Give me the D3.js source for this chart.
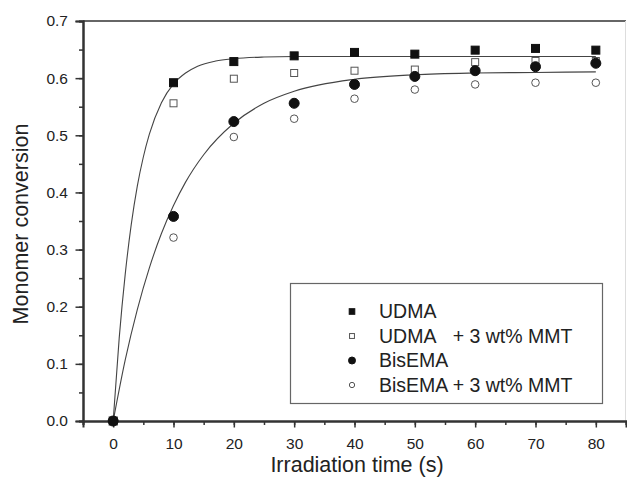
<!DOCTYPE html>
<html>
<head>
<meta charset="utf-8">
<script src="https://cdn.jsdelivr.net/npm/d3@7"></script>
<style>
  body { margin: 0; background: #fff; }
  text { font-family: "Liberation Sans", Arial, sans-serif; fill: #222; }
</style>
</head>
<body>
<svg id="chart" width="627" height="483"></svg>
<script>
// measured points
const times = [0, 10, 20, 30, 40, 50, 60, 70, 80];
const udma = [0, 0.592, 0.629, 0.639, 0.645, 0.642, 0.649, 0.652, 0.649];
const udmaMmt = [0, 0.556, 0.599, 0.609, 0.613, 0.615, 0.628, 0.630, 0.630];
const bisema = [0, 0.358, 0.524, 0.556, 0.589, 0.603, 0.613, 0.620, 0.626];
const bisemaMmt = [0, 0.321, 0.497, 0.529, 0.564, 0.580, 0.589, 0.592, 0.592];

// fitted curves
const fitUdmaT = [0, 1, 2, 3, 4, 5, 6, 8, 10, 12, 14, 17, 20, 25, 30, 40, 60, 80];
const fitUdmaY = [0, 0.145, 0.257, 0.344, 0.411, 0.462, 0.502, 0.557, 0.590, 0.609, 0.621, 0.630, 0.634, 0.637, 0.638, 0.638, 0.638, 0.638];
const fitBisT = [0, 2, 4, 6, 8, 10, 12, 15, 20, 25, 30, 40, 50, 60, 70, 80];
const fitBisY = [0, 0.107, 0.195, 0.268, 0.328, 0.377, 0.418, 0.466, 0.521, 0.556, 0.577, 0.598, 0.606, 0.609, 0.610, 0.611];

const xTicks = [0, 10, 20, 30, 40, 50, 60, 70, 80];
const yTicks = [0, 0.1, 0.2, 0.3, 0.4, 0.5, 0.6, 0.7];
const legendLabels = ["UDMA", "UDMA\u00a0\u00a0\u00a0+ 3 wt% MMT", "BisEMA", "BisEMA + 3 wt% MMT"];

const svg = d3.select("#chart");
const mLeft = 83, mRight = 626, mTop = 21, mBottom = 421;

const x = d3.scaleLinear().domain([-5, 85]).range([mLeft, mRight]);
const y = d3.scaleLinear().domain([0, 0.7]).range([mBottom, mTop]);

// frame
svg.append("line").attr("x1", mLeft).attr("x2", mRight).attr("y1", mTop).attr("y2", mTop)
  .attr("stroke", "#333").attr("stroke-width", 1.6);
svg.append("line").attr("x1", mRight - 0.5).attr("x2", mRight - 0.5).attr("y1", mTop).attr("y2", mBottom)
  .attr("stroke", "#ddd").attr("stroke-width", 1);

// axes
const xAxis = svg.append("g").attr("transform", `translate(0,${mBottom})`);
xAxis.call(d3.axisBottom(x).tickValues(d3.range(-5, 86, 5)).tickSize(4).tickFormat(""));
xAxis.append("g").call(d3.axisBottom(x).tickValues(xTicks).tickSize(6.5).tickFormat(d3.format("d")));
xAxis.selectAll(".domain").attr("stroke", "#333").attr("stroke-width", 2);
xAxis.selectAll(".tick line").attr("stroke", "#333").attr("stroke-width", 1.5);
xAxis.selectAll("text").attr("font-size", 15.5).attr("y", 28).attr("dy", 0)
  .style("font-family", "Liberation Sans, Arial, sans-serif").attr("fill", "#222");

const yAxis = svg.append("g").attr("transform", `translate(${mLeft},0)`);
yAxis.call(d3.axisLeft(y).tickValues(d3.range(0, 0.701, 0.05)).tickSize(4).tickFormat(""));
yAxis.append("g").call(d3.axisLeft(y).tickValues(yTicks).tickSize(7.5).tickFormat(d3.format(".1f")));
yAxis.selectAll(".domain").attr("stroke", "#333").attr("stroke-width", 2);
yAxis.selectAll(".tick line").attr("stroke", "#333").attr("stroke-width", 1.5);
yAxis.selectAll("text").attr("font-size", 15.5).attr("x", -15)
  .style("font-family", "Liberation Sans, Arial, sans-serif").attr("fill", "#222");

// titles
svg.append("text").attr("x", 357).attr("y", 472).attr("text-anchor", "middle")
  .attr("font-size", 21.5).text("Irradiation time (s)");
svg.append("text").attr("transform", "translate(28,224) rotate(-90)").attr("text-anchor", "middle")
  .attr("font-size", 21.5).text("Monomer conversion");

// fit curves
const line = d3.line().x(d => x(d[0])).y(d => y(d[1])).curve(d3.curveMonotoneX);
[[fitUdmaT, fitUdmaY], [fitBisT, fitBisY]].forEach(([ts, ys]) => {
  svg.append("path").datum(ts.map((t, i) => [t, ys[i]]))
    .attr("d", line).attr("fill", "none").attr("stroke", "#444").attr("stroke-width", 1.1);
});

// markers
const series = [
  { vals: udma, shape: "square", fill: true },
  { vals: udmaMmt, shape: "square", fill: false },
  { vals: bisema, shape: "circle", fill: true },
  { vals: bisemaMmt, shape: "circle", fill: false }
];

const drawMarker = (g, s, cx, cy, k = 1) => {
  if (s.shape === "square") {
    const w = (s.fill ? 8 : 7) * k;
    g.append("rect").attr("x", cx - w / 2).attr("y", cy - w / 2).attr("width", w).attr("height", w)
      .attr("fill", s.fill ? "#111" : "#fff").attr("stroke", s.fill ? "#111" : "#555").attr("stroke-width", 1);
  } else {
    g.append("circle").attr("cx", cx).attr("cy", cy).attr("r", (s.fill ? 5 : 3.8) * k)
      .attr("fill", s.fill ? "#111" : "#fff").attr("stroke", s.fill ? "#111" : "#555").attr("stroke-width", 1);
  }
};

const marks = svg.append("g");
[1, 3, 0, 2].forEach(j => {
  times.forEach((t, i) => drawMarker(marks, series[j], x(t), y(series[j].vals[i])));
});

// legend
const lg = svg.append("g");
lg.append("rect").attr("x", 290.5).attr("y", 283.5).attr("width", 312).attr("height", 120)
  .attr("fill", "#fff").attr("stroke", "#666").attr("stroke-width", 1.2);
series.forEach((s, i) => {
  const cy = 311.5 + i * 24.5;
  drawMarker(lg, s, 352, cy, 0.7);
  lg.append("text").attr("x", 379).attr("y", cy + 6.5).attr("font-size", 19.5).text(legendLabels[i]);
});
</script>
</body>
</html>
